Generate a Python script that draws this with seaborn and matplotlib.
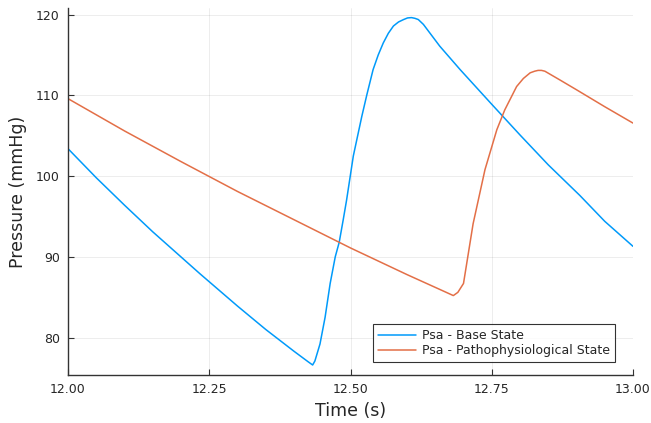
import matplotlib
matplotlib.use("Agg")
import matplotlib.pyplot as plt
import seaborn as sns
import pandas as pd

t_base = [12.000, 12.050, 12.100, 12.150, 12.2336, 12.300, 12.350, 12.400, 12.425, 12.433,
          12.437, 12.446, 12.455, 12.464, 12.473, 12.480, 12.487, 12.493, 12.505, 12.520,
          12.529, 12.540, 12.549, 12.558, 12.567, 12.576, 12.585, 12.594, 12.601, 12.608,
          12.614, 12.620, 12.629, 12.658, 12.694, 12.750, 12.800, 12.850, 12.906, 12.950,
          13.000]
p_base = [103.4, 99.8, 96.4, 93.1, 87.9, 83.9, 81.0, 78.3, 77.0, 76.6,
          77.1, 79.2, 82.5, 86.7, 90.0, 91.8, 94.55, 97.0, 102.5, 107.4,
          110.1, 113.2, 115.0, 116.5, 117.7, 118.6, 119.1, 119.4, 119.6, 119.64,
          119.55, 119.4, 118.8, 116.1, 113.2, 108.9, 105.1, 101.4, 97.6, 94.4,
          91.3]

t_path = [12.000, 12.100, 12.200, 12.300, 12.400, 12.500, 12.600, 12.660, 12.682, 12.690,
          12.700, 12.717, 12.738, 12.759, 12.773, 12.794, 12.806, 12.818, 12.826, 12.832,
          12.838, 12.844, 12.871, 12.900, 12.950, 13.000]
p_path = [109.6, 105.6, 101.8, 98.1, 94.6, 91.1, 87.8, 85.9, 85.2, 85.6,
          86.7, 94.1, 100.8, 105.75, 108.2, 111.1, 112.1, 112.8, 113.0, 113.1,
          113.1, 113.0, 111.9, 110.7, 108.6, 106.57]

label_base = "Psa - Base State"
label_path = "Psa - Pathophysiological State"
x_ticks = [12.00, 12.25, 12.50, 12.75, 13.00]
y_ticks = [80, 90, 100, 110, 120]

df = pd.concat([
    pd.DataFrame({"t": t_base, "p": p_base, "series": label_base}),
    pd.DataFrame({"t": t_path, "p": p_path, "series": label_path}),
], ignore_index=True)

sns.set_style("white")
plt.rcParams["font.family"] = ["DejaVu Sans"]

fig = plt.figure(figsize=(6.51, 4.23), dpi=100)
ax = fig.add_axes([68/651, 1-375/423, (633-68)/651, (375-8)/423])

sns.lineplot(data=df, x="t", y="p", hue="series", sort=False, estimator=None,
             palette={label_base: "#009AFA", label_path: "#E36F47"},
             linewidth=1.1, ax=ax)

ax.set_xlim(12.0, 13.0)
ax.set_ylim(75.36, 120.83)
ax.set_xticks(x_ticks)
ax.set_xticklabels([f"{v:.2f}" for v in x_ticks])
ax.set_yticks(y_ticks)
ax.set_yticklabels([str(v) for v in y_ticks])
ax.grid(True, color="#000000", alpha=0.1, linewidth=0.5)
for s in ["top", "right"]:
    ax.spines[s].set_visible(False)
for s in ["left", "bottom"]:
    ax.spines[s].set_color("#333333")
    ax.spines[s].set_linewidth(1.0)
ax.tick_params(direction="in", length=4, width=0.8, labelsize=9, color="#333333",
               left=True, bottom=True, pad=6)
ax.set_xlabel("Time (s)", fontsize=12.5, labelpad=4)
ax.set_ylabel("Pressure (mmHg)", fontsize=12.5, labelpad=6)

leg = ax.legend(loc="lower right", bbox_to_anchor=(0.968, 0.035), borderaxespad=0,
                fontsize=9, frameon=True, fancybox=False, handlelength=3.0,
                labelspacing=0.15, borderpad=0.4, handletextpad=0.5)
leg.get_frame().set_edgecolor("black")
leg.get_frame().set_linewidth(0.8)

fig.savefig("out.png", dpi=100)
